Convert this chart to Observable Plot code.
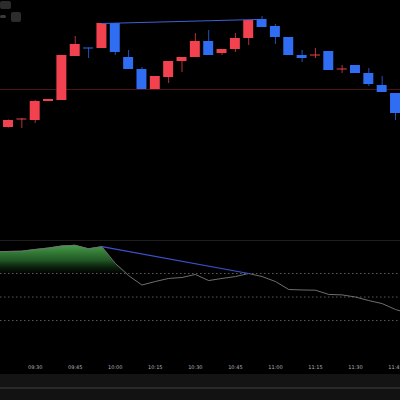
<!DOCTYPE html>
<html><head><meta charset="utf-8">
<script src="https://cdn.jsdelivr.net/npm/d3@7"></script>
<script src="https://cdn.jsdelivr.net/npm/@observablehq/plot@0.6"></script>
<style>
html,body{margin:0;padding:0;background:#000;}
#wrap{position:relative;width:400px;height:400px;overflow:hidden;background:#000;font-family:"DejaVu Sans",sans-serif;}
#main,#ind{position:absolute;left:0;}
#main{top:0;}
#ind{top:240px;}
.sep{position:absolute;left:0;width:400px;top:240px;height:1px;background:#1e1e1e;}
.strip1{position:absolute;left:0;top:374px;width:400px;height:13px;background:#141414;}
.strip2{position:absolute;left:0;top:387px;width:400px;height:2px;background:#2a2a2a;}
.strip3{position:absolute;left:0;top:389px;width:400px;height:11px;background:#121212;}
.btn{position:absolute;background:#2c2c2c;border-radius:2px;}
</style>
</head><body>
<div id="wrap">
  <div id="main"></div>
  <div class="sep"></div>
  <div id="ind"></div>
  <div class="strip1"></div><div class="strip2"></div><div class="strip3"></div>
  <div class="btn" style="left:0;top:1px;width:11px;height:8px;"></div>
  <div class="btn" style="left:11px;top:12px;width:10px;height:10px;"></div>
  <div class="btn" style="left:0;top:15px;width:6px;height:3px;background:#3a3a3a"></div>
</div>
<script>
const times  = ["09:20","09:25","09:30","09:35","09:40","09:45","09:50","09:55","10:00","10:05","10:10","10:15","10:20","10:25","10:30","10:35","10:40","10:45","10:50","10:55","11:00","11:05","11:10","11:15","11:20","11:25","11:30","11:35","11:40","11:45"];
const opens  = [22.46,22.61,22.60,22.98,23.00,23.88,24.05,24.04,24.54,23.86,23.62,23.22,23.46,23.78,23.86,24.18,23.94,24.02,24.24,24.62,24.48,24.26,23.90,23.89,23.98,23.61,23.70,23.54,23.30,23.14];
const highs  = [22.61,22.64,23.00,23.02,23.90,24.28,24.05,24.54,24.54,24.00,23.66,23.48,23.78,23.86,24.34,24.40,24.02,24.34,24.60,24.68,24.52,24.26,24.00,24.04,23.98,23.70,23.70,23.64,23.48,23.14];
const lows   = [22.45,22.44,22.54,22.98,23.00,23.88,23.84,24.04,23.90,23.62,23.22,23.22,23.34,23.56,23.86,23.90,23.90,23.96,24.10,24.46,24.12,23.90,23.76,23.84,23.60,23.54,23.54,23.28,23.16,22.60];
const closes = [22.60,22.63,22.98,23.02,23.90,24.12,24.03,24.54,23.96,23.62,23.22,23.48,23.78,23.86,24.18,23.90,24.02,24.24,24.60,24.46,24.26,23.90,23.84,23.91,23.60,23.63,23.54,23.32,23.16,22.74];

const levelPrice = 23.22;
const trendTimes = ["09:55","10:53"];
const trendPrices = [24.54, 24.62];

const indTimes  = ["09:15","09:20","09:25","09:30","09:35","09:40","09:45","09:50","09:55","10:00","10:05","10:10","10:15","10:20","10:25","10:30","10:35","10:40","10:45","10:50","10:55","11:00","11:05","11:10","11:15","11:20","11:25","11:30","11:35","11:40","11:45","11:50"];
const indValues = [9.2,9.4,9.5,10.2,10.8,11.7,12.0,10.5,11.4,4.3,-0.9,-4.9,-3.4,-2.1,-1.7,-0.4,-3.0,-2.1,-1.3,0.0,-1.3,-3.4,-6.8,-7.0,-7.1,-8.9,-9.1,-10.0,-11.5,-12.8,-15.3,-17.0];
const indLevels = [0,-10,-20];
const indTrendTimes = ["09:55","10:50"];
const indTrendValues = [11.4, 0.0];

const tickLabels = ["09:30","09:45","10:00","10:15","10:30","10:45","11:00","11:15","11:30","11:45"];

const T = s => new Date(`2024-01-02T${s}:00Z`);
const xDomain = [T("09:17"), new Date(T("11:46").getTime() + 52000)];
const HALF = 112000; // half body width in ms
const UP = "#f2414f", DOWN = "#2f6df2";

const candles = times.map((s,i)=>({t:T(s),o:opens[i],h:highs[i],l:lows[i],c:closes[i]}));
const col = d => d.c >= d.o ? UP : DOWN;

const main = Plot.plot({
  width:400, height:240, margin:0,
  style:{background:"#000"},
  x:{type:"utc", domain:xDomain, range:[0,400], axis:null},
  y:{domain:[20.2,25.0], axis:null},
  marks:[
    Plot.ruleY([levelPrice],{stroke:"#4a1418", strokeWidth:1}),
    Plot.ruleX(candles,{x:"t", y1:"l", y2:"h", stroke:col, strokeWidth:1, strokeOpacity:0.75}),
    Plot.rect(candles,{x1:d=>new Date(d.t.getTime()-HALF), x2:d=>new Date(d.t.getTime()+HALF), y1:"o", y2:"c", fill:col}),
    Plot.line(trendTimes.map((s,i)=>({t:T(s),p:trendPrices[i]})),{x:"t",y:"p",stroke:"#3f5fd8",strokeWidth:1})
  ]
});
document.getElementById("main").append(main);

const ind = indTimes.map((s,i)=>({t:T(s),v:indValues[i]}));
const defs = () => {
  const d = d3.create("svg:defs");
  const g = d.append("linearGradient").attr("id","grn").attr("x1",0).attr("y1",0).attr("x2",0).attr("y2",1);
  g.append("stop").attr("offset","0%").attr("stop-color","#46a04b");
  g.append("stop").attr("offset","55%").attr("stop-color","#2a6e2e").attr("stop-opacity",0.8);
  g.append("stop").attr("offset","100%").attr("stop-color","#0a200b").attr("stop-opacity",0.2);
  return d.node();
};
const indPlot = Plot.plot({
  width:400, height:134, marginTop:0, marginLeft:0, marginRight:0, marginBottom:14,
  style:{background:"transparent", color:"#b5b5b5", fontSize:"5px", fontFamily:"DejaVu Sans"},
  x:{type:"utc", domain:xDomain, range:[0,400]},
  y:{domain:[-37,14.04], axis:null},
  marks:[
    defs,
    Plot.ruleY(indLevels,{stroke:"#5a5a5a", strokeDasharray:"1.5,2.5", strokeWidth:1}),
    Plot.areaY(ind,{x:"t", y1:0, y2:d=>Math.max(d.v,0), fill:"url(#grn)", clip:true}),
    Plot.line(ind,{x:"t", y:"v", stroke:"#6f6f6f", strokeWidth:1, clip:true}),
    Plot.line(indTrendTimes.map((s,i)=>({t:T(s),v:indTrendValues[i]})),{x:"t",y:"v",stroke:"#3b52d0",strokeWidth:1.2}),
    Plot.axisX(tickLabels.map(T),{tickSize:0, tickPadding:5, tickFormat:"%H:%M", label:null})
  ]
});
document.getElementById("ind").append(indPlot);
</script>
</body></html>
